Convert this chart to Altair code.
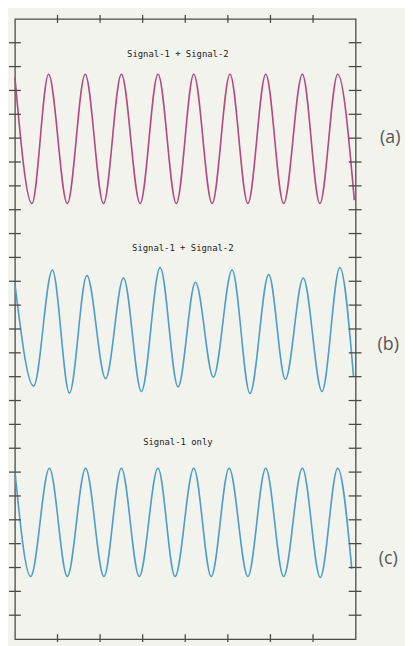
import altair as alt
import pandas as pd

# ---- data (x in horizontal divisions 0..8, y in vertical divisions 0..26)
a_t = [0.00, 0.40, 0.79, 1.23, 1.65, 2.08, 2.50, 2.94, 3.36, 3.79, 4.20, 4.63, 5.05, 5.47, 5.89, 6.31, 6.75, 7.16, 7.58, 7.97]
a_v = [23.55, 18.26, 23.68, 18.26, 23.68, 18.26, 23.68, 18.26, 23.68, 18.26, 23.68, 18.26, 23.68, 18.26, 23.68, 18.26, 23.68, 18.26, 23.68, 18.40]

b_t = [0.00, 0.44, 0.88, 1.28, 1.69, 2.13, 2.55, 2.97, 3.41, 3.83, 4.24, 4.66, 5.10, 5.52, 5.96, 6.35, 6.77, 7.21, 7.63, 7.95]
b_v = [14.90, 10.61, 15.47, 10.31, 15.24, 10.92, 15.14, 10.38, 15.58, 10.57, 14.96, 10.98, 15.47, 10.30, 15.28, 10.89, 15.14, 10.38, 15.58, 11.01]

c_t = [0.00, 0.37, 0.81, 1.23, 1.66, 2.09, 2.50, 2.92, 3.36, 3.76, 4.20, 4.61, 5.03, 5.47, 5.89, 6.31, 6.75, 7.17, 7.58, 7.91]
c_v = [7.04, 2.62, 7.16, 2.62, 7.16, 2.62, 7.16, 2.62, 7.16, 2.62, 7.16, 2.62, 7.16, 2.62, 7.16, 2.62, 7.16, 2.58, 7.16, 2.94]

panels = ["(a)", "(b)", "(c)"]
titles = ["Signal-1 + Signal-2", "Signal-1 + Signal-2", "Signal-1 only"]
x_ticks = [1, 2, 3, 4, 5, 6, 7]
y_ticks = list(range(1, 26))

W, H = 345, 628
INK = "#4a4a4a"
MAGENTA = "#b8467f"
BLUE = "#4c9dcb"

rows = []
for p, ts, vs in zip(panels, [a_t, b_t, c_t], [a_v, b_v, c_v]):
    for t, v in zip(ts, vs):
        rows.append({"panel": p, "t": t, "v": v})
waves = pd.DataFrame(rows)

xs = alt.Scale(domain=[0, 8], nice=False, zero=False)
ys = alt.Scale(domain=[0, 26], nice=False, zero=False)

lines = alt.Chart(waves).mark_line(interpolate="monotone", strokeWidth=1.6).encode(
    x=alt.X("t:Q", scale=xs, axis=None),
    y=alt.Y("v:Q", scale=ys, axis=None),
    color=alt.Color("panel:N", scale=alt.Scale(domain=panels, range=[MAGENTA, BLUE, BLUE]), legend=None),
)

xt = pd.DataFrame({"t": x_ticks})
yt = pd.DataFrame({"v": y_ticks})

top_ticks = alt.Chart(xt).mark_rule(color=INK, strokeWidth=1.3).encode(
    x=alt.X("t:Q", scale=xs, axis=None), y=alt.value(-4), y2=alt.value(4))
bot_ticks = alt.Chart(xt).mark_rule(color=INK, strokeWidth=1.3).encode(
    x=alt.X("t:Q", scale=xs, axis=None), y=alt.value(H - 5), y2=alt.value(H + 3))
left_ticks = alt.Chart(yt).mark_rule(color=INK, strokeWidth=1.3).encode(
    y=alt.Y("v:Q", scale=ys, axis=None), x=alt.value(-6), x2=alt.value(6))
right_ticks = alt.Chart(yt).mark_rule(color=INK, strokeWidth=1.3).encode(
    y=alt.Y("v:Q", scale=ys, axis=None), x=alt.value(W - 7), x2=alt.value(W + 6))

title_pos = [(165, 36), (170, 232), (165, 428)]
label_pos = [(380, 121), (378, 330), (378, 547)]

texts = []
for (tx, ty), s in zip(title_pos, titles):
    texts.append(alt.Chart(pd.DataFrame({"s": [s]})).mark_text(
        font="DejaVu Sans Mono", fontSize=9, color="#222222", align="center", baseline="middle"
    ).encode(text="s:N", x=alt.value(tx), y=alt.value(ty)))
for (lx, ly), s in zip(label_pos, panels):
    texts.append(alt.Chart(pd.DataFrame({"s": [s]})).mark_text(
        font="Open Sans", fontSize=18, color="#555555", align="center", baseline="middle"
    ).encode(text="s:N", x=alt.value(lx), y=alt.value(ly)))

chart = alt.layer(lines, top_ticks, bot_ticks, left_ticks, right_ticks, *texts).properties(
    width=W, height=H,
    autosize=alt.AutoSizeParams(type="none"),
    padding={"left": 7, "top": 7, "right": 50, "bottom": 3},
    background="#f2f3ed",
).configure_view(stroke=INK, strokeWidth=1.3)

chart.save("out.html", embed_options={"renderer": "svg", "actions": False})
